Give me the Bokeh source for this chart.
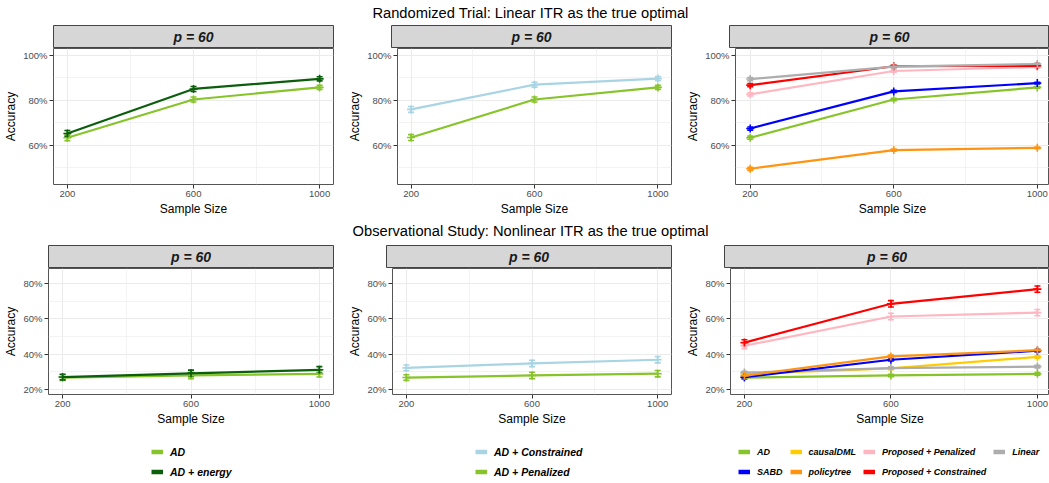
from bokeh.plotting import figure
from bokeh.layouts import column, row
from bokeh.models import (Range1d, FixedTicker, NumeralTickFormatter, Whisker, TeeHead,
                          ColumnDataSource, Legend, LegendItem, Label)
from bokeh.embed import file_html
from bokeh.resources import INLINE

FONT = "Liberation Sans"

# ---------------- data ----------------
sample_sizes = [200, 600, 1000]
x_ticks = [200, 600, 1000]
x_minor = [400, 800]
top_y_ticks = [0.6, 0.8, 1.0]
top_y_minor = [0.5, 0.7, 0.9]
bot_y_ticks = [0.2, 0.4, 0.6, 0.8]
bot_y_minor = [0.3, 0.5, 0.7]

title_top = "Randomized Trial: Linear ITR as the true optimal"
title_bottom = "Observational Study: Nonlinear ITR as the true optimal"
strip_label = "p = 60"

# Randomized trial (linear ITR optimal)
rt_ad = [0.633, 0.803, 0.857]
rt_ad_energy = [0.652, 0.850, 0.895]
rt_ad_constrained = [0.759, 0.869, 0.896]
rt_ad_penalized = [0.634, 0.803, 0.857]
rt_sabd = [0.674, 0.839, 0.876]
rt_policytree = [0.495, 0.578, 0.588]
rt_linear = [0.894, 0.949, 0.961]
rt_prop_pen = [0.826, 0.930, 0.948]
rt_prop_con = [0.867, 0.951, 0.953]
rt_se_big = [0.013, 0.011, 0.009]
rt_se_small = [0.007, 0.005, 0.004]

# Observational study (nonlinear ITR optimal)
os_ad = [0.268, 0.280, 0.289]
os_ad_energy = [0.271, 0.292, 0.312]
os_ad_constrained = [0.323, 0.348, 0.369]
os_ad_penalized = [0.268, 0.280, 0.290]
os_sabd = [0.270, 0.369, 0.420]
os_causaldml = [0.290, 0.320, 0.385]
os_policytree = [0.278, 0.388, 0.423]
os_linear = [0.296, 0.322, 0.330]
os_prop_pen = [0.448, 0.614, 0.636]
os_prop_con = [0.466, 0.686, 0.769]
os_se_big = [0.016, 0.018, 0.018]
os_se_small = [0.008, 0.007, 0.007]

C_AD = "#86C42A"
C_ENERGY = "#0B5E0B"
C_CONSTR = "#A8D4E4"
C_SABD = "#0000FF"
C_CAUSAL = "#FFCC00"
C_POLICY = "#FF9410"
C_PPEN = "#FFB6C1"
C_PCON = "#FF0000"
C_LINEAR = "#ADADAD"

# ---------------- geometry ----------------
COL_W = [345, 338, 366]
TOP_LEFT = [53, 46, 46]
BOT_LEFT = [48, 41, 41]
TOP_FRAME = [280, 280, 320]
BOT_FRAME = [285, 285, 325]
TOTAL_W = sum(COL_W)


def text_fig(height, txt, y_from_top):
    p = figure(width=TOTAL_W, height=height, x_range=Range1d(0, TOTAL_W), y_range=Range1d(0, height),
               min_border=0, output_backend="svg", toolbar_location=None,
               x_axis_type=None, y_axis_type=None)
    p.grid.visible = False
    p.outline_line_color = None
    p.add_layout(Label(x=530, y=height - y_from_top, text=txt, text_align="center",
                       text_baseline="middle", text_font=FONT, text_font_size="14.7px",
                       text_color="black"))
    return p


def strip_fig(i, left, frame):
    p = figure(width=COL_W[i], height=23, x_range=Range1d(0, 1), y_range=Range1d(0, 1),
               min_border_left=left, min_border_right=COL_W[i] - left - frame,
               min_border_top=0, min_border_bottom=0,
               output_backend="svg", toolbar_location=None, x_axis_type=None, y_axis_type=None)
    p.grid.visible = False
    p.background_fill_color = "#D6D6D6"
    p.outline_line_color = "#444444"
    p.outline_line_width = 1
    p.add_layout(Label(x=0.5, y=0.5, text=strip_label, text_align="center", text_baseline="middle",
                       text_font=FONT, text_font_style="bold italic", text_font_size="14px",
                       text_color="#1A1A1A"))
    return p


def panel_fig(i, left, frame, height, xr, yr, yticks, yminor):
    p = figure(width=COL_W[i], height=height, x_range=Range1d(*xr), y_range=Range1d(*yr),
               min_border_left=left, min_border_right=COL_W[i] - left - frame,
               min_border_top=0, min_border_bottom=31,
               output_backend="svg", toolbar_location=None)
    p.background_fill_color = "white"
    p.outline_line_color = "#555555"
    p.outline_line_width = 1
    xt = FixedTicker(ticks=x_ticks, minor_ticks=x_minor)
    yt = FixedTicker(ticks=yticks, minor_ticks=yminor)
    p.xaxis.ticker = xt
    p.yaxis.ticker = yt
    p.xgrid.ticker = xt
    p.ygrid.ticker = yt
    p.yaxis.formatter = NumeralTickFormatter(format="0%")
    for g in (p.xgrid, p.ygrid):
        g.grid_line_color = "#EBEBEB"
        g.grid_line_width = 1.1
        g.minor_grid_line_color = "#EBEBEB"
        g.minor_grid_line_width = 0.6
    p.xaxis.axis_label = "Sample Size"
    p.yaxis.axis_label = "Accuracy"
    for ax in (p.xaxis, p.yaxis):
        ax.axis_line_color = None
        ax.major_tick_line_color = "#333333"
        ax.major_tick_out = 4
        ax.major_tick_in = 0
        ax.minor_tick_line_color = None
        ax.major_label_text_font = FONT
        ax.major_label_text_font_size = "9.5px"
        ax.major_label_text_color = "#4D4D4D"
        ax.axis_label_text_font = FONT
        ax.axis_label_text_font_size = "12px"
        ax.axis_label_text_font_style = "normal"
        ax.axis_label_text_color = "black"
    p.xaxis.major_label_standoff = 2
    p.xaxis.axis_label_standoff = 2
    p.yaxis.major_label_standoff = 2
    p.yaxis.axis_label_standoff = 2
    return p


def add_series(p, vals, se, color):
    src = ColumnDataSource(dict(x=sample_sizes, y=vals,
                                lo=[v - s for v, s in zip(vals, se)],
                                hi=[v + s for v, s in zip(vals, se)]))
    p.line("x", "y", source=src, line_color=color, line_width=2.2)
    p.add_layout(Whisker(source=src, base="x", lower="lo", upper="hi", line_color=color, line_width=1.6,
                         lower_head=TeeHead(size=6, line_color=color, line_width=1.6),
                         upper_head=TeeHead(size=6, line_color=color, line_width=1.6)))
    p.scatter("x", "y", source=src, marker="cross", size=8, line_color=color, line_width=1.6)


XR = (156, 1044)
top_specs = [
    [(rt_ad, rt_se_big, C_AD), (rt_ad_energy, rt_se_big, C_ENERGY)],
    [(rt_ad_constrained, rt_se_big, C_CONSTR), (rt_ad_penalized, rt_se_big, C_AD)],
    [(rt_policytree, rt_se_small, C_POLICY), (rt_ad, rt_se_small, C_AD), (rt_sabd, rt_se_small, C_SABD),
     (rt_prop_pen, rt_se_small, C_PPEN), (rt_prop_con, rt_se_small, C_PCON), (rt_linear, rt_se_small, C_LINEAR)],
]
bot_specs = [
    [(os_ad, os_se_big, C_AD), (os_ad_energy, os_se_big, C_ENERGY)],
    [(os_ad_constrained, os_se_big, C_CONSTR), (os_ad_penalized, os_se_big, C_AD)],
    [(os_causaldml, os_se_small, C_CAUSAL), (os_linear, os_se_small, C_LINEAR), (os_ad, os_se_small, C_AD),
     (os_sabd, os_se_small, C_SABD), (os_policytree, os_se_small, C_POLICY),
     (os_prop_pen, os_se_big, C_PPEN), (os_prop_con, os_se_big, C_PCON)],
]
top_xr = [XR, XR, (159, 1034)]
bot_xr = [XR, XR, (162, 1033)]

top_plots = []
bot_plots = []
for i in range(3):
    p = panel_fig(i, TOP_LEFT[i], TOP_FRAME[i], 170, top_xr[i], (0.425, 1.03), top_y_ticks, top_y_minor)
    for vals, se, c in top_specs[i]:
        add_series(p, vals, se, c)
    top_plots.append(p)
    q = panel_fig(i, BOT_LEFT[i], BOT_FRAME[i], 160, bot_xr[i], (0.172, 0.886), bot_y_ticks, bot_y_minor)
    for vals, se, c in bot_specs[i]:
        add_series(q, vals, se, c)
    bot_plots.append(q)

# ---------------- legends ----------------
legend_groups = [
    [("AD", C_AD), ("AD + energy", C_ENERGY)],
    [("AD + Constrained", C_CONSTR), ("AD + Penalized", C_AD)],
    [("AD", C_AD), ("SABD", C_SABD), ("causalDML", C_CAUSAL), ("policytree", C_POLICY),
     ("Proposed + Penalized", C_PPEN), ("Proposed + Constrained", C_PCON), ("Linear", C_LINEAR)],
]
legend_x = [151, 475, 738]
legend_font = ["10.5px", "10.5px", "9px"]

LEG_H = 55
lf = figure(width=TOTAL_W, height=LEG_H, x_range=Range1d(0, 1), y_range=Range1d(0, 1), min_border=0,
            output_backend="svg", toolbar_location=None, x_axis_type=None, y_axis_type=None)
lf.grid.visible = False
lf.outline_line_color = None
for k, grp in enumerate(legend_groups):
    items = []
    for name, c in grp:
        r = lf.line(x=[float("nan")], y=[float("nan")], line_color=c, line_width=4.5)
        items.append(LegendItem(label=name, renderers=[r]))
    leg = Legend(items=items, location=(legend_x[k], 5), orientation="vertical", nrows=2,
                 glyph_width=12, glyph_height=13, label_height=13, label_standoff=7, spacing=7,
                 padding=0, margin=0, border_line_color=None, background_fill_alpha=0,
                 label_text_font=FONT, label_text_font_style="bold italic",
                 label_text_font_size=legend_font[k], label_text_color="black")
    lf.add_layout(leg, "center")

header = text_fig(25, title_top, 12)
mid = text_fig(27, title_bottom, 12.7)

layout = column(
    header,
    row(*[strip_fig(i, TOP_LEFT[i], TOP_FRAME[i]) for i in range(3)]),
    row(*top_plots),
    mid,
    row(*[strip_fig(i, BOT_LEFT[i], BOT_FRAME[i]) for i in range(3)]),
    row(*bot_plots),
    lf,
)

open("out.html", "w").write(file_html(layout, INLINE))
